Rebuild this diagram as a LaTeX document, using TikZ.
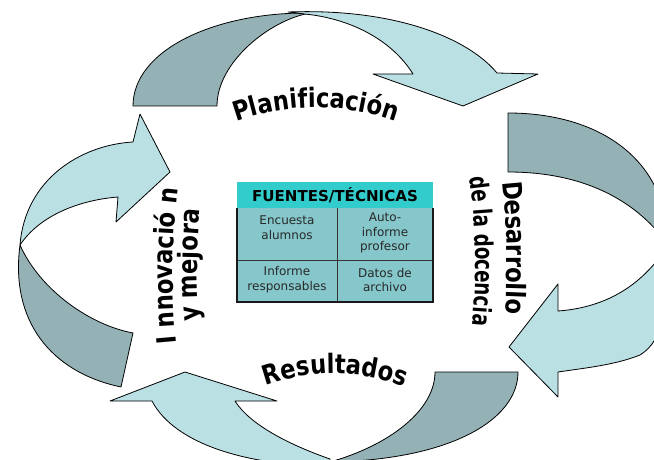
\documentclass[tikz,border=0pt]{standalone}
\usepackage{fontspec}
\newfontfamily\wafont{DejaVu Sans}[FakeStretch=0.85]
\newfontfamily\wafontc{DejaVu Sans}[FakeStretch=0.72]
\newfontfamily\tabfont{DejaVu Sans}
\usetikzlibrary{decorations.text}
\definecolor{lightarr}{RGB}{186,224,228}
\definecolor{darkarr}{RGB}{148,178,182}
\definecolor{hdrcol}{RGB}{51,204,204}
\definecolor{cellcol}{RGB}{134,199,203}
\definecolor{celltext}{RGB}{40,40,40}
\begin{document}
\begin{tikzpicture}[x=0.75pt,y=-0.75pt,
  lightpart/.style={fill=lightarr,draw=black,line width=0.6pt,line join=round},
  darkpart/.style={fill=darkarr,draw=black,line width=0.6pt,line join=round},
  wordart/.style={decorate,decoration={text along path,text align=center,
     text={|\wafont\bfseries\fontsize{20}{20}\selectfont|#1}}},
  wordartc/.style={decorate,decoration={text along path,text align=center,
     text={|\wafontc\bfseries\fontsize{19}{19}\selectfont|#1}}},
  celltxt/.style={font=\tabfont\fontsize{9}{11}\selectfont,text=celltext,align=center,inner sep=0pt},
  hdrtxt/.style={font=\tabfont\bfseries\fontsize{11.3}{13}\selectfont,text=black,inner sep=0pt}]
\useasboundingbox (0,0) rectangle (654,460);
\begin{scope}
\clip (0,0) rectangle (654,460);
% top arrow
\draw[darkpart] (133,106) .. controls (133,50) and (215,12) .. (310,13)
   .. controls (270,20) and (217,62) .. (217,106) -- cycle;
\draw[lightpart] (288,12) .. controls (395,8) and (468,38) .. (497,73)
   -- (538,74) -- (463,106) -- (373,74) -- (413,74)
   .. controls (395,45) and (360,22) .. (313,15) -- cycle;
% right arrow
\draw[darkpart] (508,113) .. controls (600,113) and (668,160) .. (668,245)
   .. controls (640,205) and (590,172) .. (508,172) -- cycle;
\draw[lightpart] (668,245) .. controls (640,290) and (600,308) .. (558,311)
   -- (558,284) -- (509,347) -- (558,397) -- (558,372)
   .. controls (585,368) and (615,365) .. (640,355)
   .. controls (665,340) and (670,300) .. (668,245) -- cycle;
% bottom arrow
\draw[darkpart] (435,372) -- (518,372) .. controls (518,420) and (450,460) .. (330,462)
   .. controls (390,445) and (435,410) .. (435,372) -- cycle;
\draw[lightpart] (330,459) .. controls (290,445) and (250,425) .. (235,401)
   -- (277,401) -- (185,372) -- (110,401) -- (152,401)
   .. controls (175,445) and (250,466) .. (330,466) -- cycle;
% left arrow
\draw[darkpart] (133,333) -- (121,387) .. controls (50,372) and (10,320) .. (20,245)
   .. controls (40,290) and (90,325) .. (133,333) -- cycle;
\draw[lightpart] (20,245) .. controls (25,180) and (80,145) .. (133,142)
   -- (140,114) -- (170,172) -- (116,222) -- (118,197)
   .. controls (80,200) and (40,215) .. (20,245) -- cycle;
% word art labels
\path[wordart={Planificación}] (215,130) .. controls (280,100) and (352,100) .. (417,130);
\path[wordart={Resultados}] (242,395) .. controls (305,366) and (365,366) .. (428,397);
\path[wordart={Desarrollo}] (501,168) .. controls (507,220) and (509,275) .. (504,328);
\path[wordartc={de la docencia}] (468,165) .. controls (476,220) and (478,280) .. (471,338);
\path[wordart={I nnovació n}] (178,360) .. controls (171,300) and (171,235) .. (180,172);
\path[wordart={y mejora}] (201,335) .. controls (196,290) and (196,240) .. (202,195);
\end{scope}
% table
\fill[hdrcol] (237,182) rectangle (433,208);
\fill[cellcol] (237,208) rectangle (433,302);
\draw[black!80,line width=0.75pt] (337,208) -- (337,302) (237,260) -- (433,260);
\draw[black!90,line width=1.6pt] (237,208) -- (237,302) -- (433,302) -- (433,208);
\node[hdrtxt] (hdr) at (335,195) {FUENTES/TÉCNICAS};
\node[celltxt] (c11) at (287,228) {Encuesta\\alumnos};
\node[celltxt] (c12) at (385,233) {Auto-\\informe\\profesor};
\node[celltxt] (c21) at (287,280) {Informe\\responsables};
\node[celltxt] (c22) at (385,280) {Datos de\\archivo};
\end{tikzpicture}
\end{document}
